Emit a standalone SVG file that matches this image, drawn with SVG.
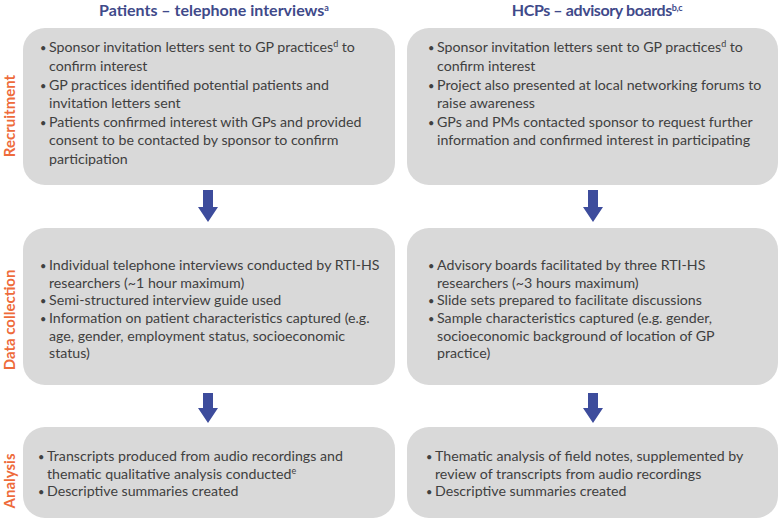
<svg xmlns="http://www.w3.org/2000/svg" width="778" height="519" viewBox="0 0 778 519">
<style>
.t{font-family:Lato,"Open Sans",sans-serif;font-size:14.2px;fill:#404040}
.b{font-family:Lato,sans-serif;font-size:11px;fill:#404040}
.h{font-family:Lato,sans-serif;font-weight:bold;font-size:16px;fill:#3F4A8A;text-anchor:middle}
.s{font-family:Lato,sans-serif;font-weight:bold;font-size:15px;fill:#EE6B3B;text-anchor:middle}
.box{fill:#D9D9D9}
.sup{font-size:9px}
.arr{fill:#3D4C9C}
</style>
<rect width="778" height="519" fill="#FFFFFF"/>
<g id="headers">
<text class="h" x="214" y="16">Patients – telephone interviews<tspan class="sup" baseline-shift="super">a</tspan></text>
<text class="h" x="597" y="16" letter-spacing="-0.4">HCPs – advisory boards<tspan class="sup" baseline-shift="super">b,c</tspan></text>
</g>
<g id="stage-labels">
<text class="s" transform="translate(15,116) rotate(-90)">Recruitment</text>
<text class="s" transform="translate(15,320) rotate(-90)">Data collection</text>
<text class="s" transform="translate(15,481) rotate(-90)">Analysis</text>
</g>
<g id="patients-recruitment">
<rect class="box" x="23" y="28" width="372" height="157" rx="22"/>
<text class="t" x="49" y="52">Sponsor invitation letters sent to GP practices<tspan class="sup" baseline-shift="super">d</tspan> to</text>
<text class="t" x="49" y="71">confirm interest</text>
<text class="t" x="49" y="89.5">GP practices identified potential patients and</text>
<text class="t" x="49" y="108">invitation letters sent</text>
<text class="t" x="49" y="126.5">Patients confirmed interest with GPs and provided</text>
<text class="t" x="49" y="145">consent to be contacted by sponsor to confirm</text>
<text class="t" x="49" y="163.5">participation</text>
</g>
<g id="hcps-recruitment">
<rect class="box" x="407" y="28" width="371" height="157" rx="22"/>
<text class="t" x="437" y="52">Sponsor invitation letters sent to GP practices<tspan class="sup" baseline-shift="super">d</tspan> to</text>
<text class="t" x="437" y="71">confirm interest</text>
<text class="t" x="437" y="89.5">Project also presented at local networking forums to</text>
<text class="t" x="437" y="108">raise awareness</text>
<text class="t" x="437" y="126.5">GPs and PMs contacted sponsor to request further</text>
<text class="t" x="437" y="145">information and confirmed interest in participating</text>
</g>
<g id="patients-data">
<rect class="box" x="23" y="228" width="372" height="157" rx="22"/>
<text class="t" x="49" y="269.5">Individual telephone interviews conducted by RTI-HS</text>
<text class="t" x="49" y="287.5">researchers (~1 hour maximum)</text>
<text class="t" x="49" y="304.5">Semi-structured interview guide used</text>
<text class="t" x="49" y="322.5">Information on patient characteristics captured (e.g.</text>
<text class="t" x="49" y="340.5">age, gender, employment status, socioeconomic</text>
<text class="t" x="49" y="357.5">status)</text>
</g>
<g id="hcps-data">
<rect class="box" x="407" y="228" width="371" height="157" rx="22"/>
<text class="t" x="437" y="269.5">Advisory boards facilitated by three RTI-HS</text>
<text class="t" x="437" y="287.5">researchers (~3 hours maximum)</text>
<text class="t" x="437" y="304.5">Slide sets prepared to facilitate discussions</text>
<text class="t" x="437" y="322.5">Sample characteristics captured (e.g. gender,</text>
<text class="t" x="437" y="340.5">socioeconomic background of location of GP</text>
<text class="t" x="437" y="357.5">practice)</text>
</g>
<g id="patients-analysis">
<rect class="box" x="23" y="427" width="372" height="91" rx="22"/>
<text class="t" x="47" y="461">Transcripts produced from audio recordings and</text>
<text class="t" x="47" y="478.5">thematic qualitative analysis conducted<tspan class="sup" baseline-shift="super">e</tspan></text>
<text class="t" x="47" y="496">Descriptive summaries created</text>
</g>
<g id="hcps-analysis">
<rect class="box" x="407" y="427" width="371" height="91" rx="22"/>
<text class="t" x="435" y="461">Thematic analysis of field notes, supplemented by</text>
<text class="t" x="435" y="478.5">review of transcripts from audio recordings</text>
<text class="t" x="435" y="496">Descriptive summaries created</text>
</g>
<g id="bullets">
<text class="b" x="40" y="52">•</text><text class="b" x="40" y="89.5">•</text><text class="b" x="40" y="126.5">•</text>
<text class="b" x="40" y="269.5">•</text><text class="b" x="40" y="304.5">•</text><text class="b" x="40" y="322.5">•</text>
<text class="b" x="38" y="461">•</text><text class="b" x="38" y="496">•</text>
<text class="b" x="428" y="52">•</text><text class="b" x="428" y="89.5">•</text><text class="b" x="428" y="126.5">•</text>
<text class="b" x="428" y="269.5">•</text><text class="b" x="428" y="304.5">•</text><text class="b" x="428" y="322.5">•</text>
<text class="b" x="426" y="461">•</text><text class="b" x="426" y="496">•</text>
</g>
<g id="connectors">
<path class="arr" d="M203,190 H213 V207 H218 L208,222 L198,207 H203 Z"/>
<path class="arr" d="M588,190 H598 V207 H603 L593,222 L583,207 H588 Z"/>
<path class="arr" d="M203,393 H213 V408 H218 L208,423 L198,408 H203 Z"/>
<path class="arr" d="M588,393 H598 V408 H603 L593,423 L583,408 H588 Z"/>
</g>
</svg>
